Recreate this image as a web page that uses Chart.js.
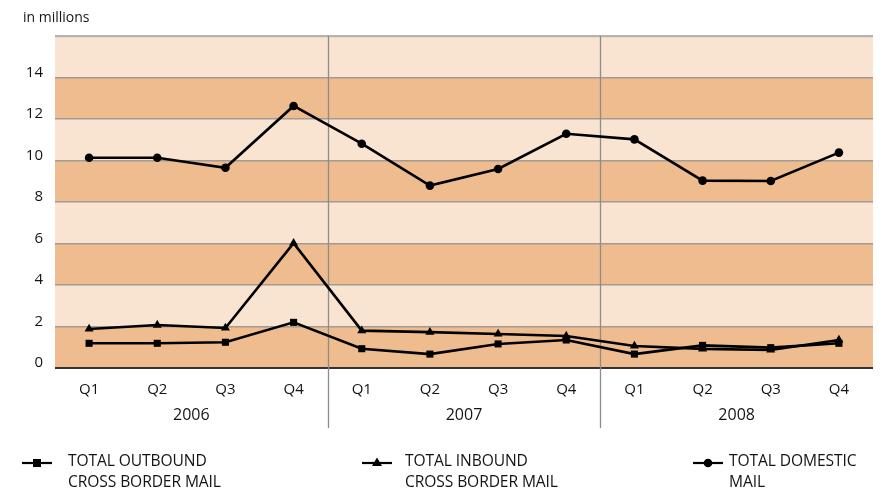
<!DOCTYPE html>
<html>
<head>
<meta charset="utf-8">
<script src="https://cdn.jsdelivr.net/npm/chart.js@4"></script>
<style>
  html, body { margin: 0; padding: 0; background: #ffffff; }
  #wrap { position: relative; width: 888px; height: 491px; font-family: "Open Sans", sans-serif; color: #141414; }
  #chart { position: absolute; left: 0; top: 0; }
  .unit { position: absolute; left: 23px; top: 7px; font-size: 14px; }
  .leg { position: absolute; top: 450px; font-size: 15.6px; line-height: 21px; letter-spacing: -0.1px; }
  .leg svg { position: absolute; top: 5px; }
</style>
</head>
<body>
<div id="wrap">
  <canvas id="chart" width="888" height="491"></canvas>
  <div class="unit">in millions</div>
  <div id="legend"></div>
</div>
<script>
// Quarterly mail volumes, in millions
const years = ['2006', '2007', '2008'];
const quarters = ['Q1', 'Q2', 'Q3', 'Q4', 'Q1', 'Q2', 'Q3', 'Q4', 'Q1', 'Q2', 'Q3', 'Q4'];
const outbound = [1.19, 1.19, 1.24, 2.20, 0.93, 0.67, 1.16, 1.35, 0.67, 1.09, 0.98, 1.19];
const inbound  = [1.88, 2.07, 1.93, 6.02, 1.80, 1.73, 1.64, 1.54, 1.06, 0.92, 0.87, 1.35];
const domestic = [10.13, 10.13, 9.65, 12.63, 10.81, 8.79, 9.59, 11.29, 11.02, 9.03, 9.01, 10.38];
const yTicks = [0, 2, 4, 6, 8, 10, 12, 14];
const legendLabels = [
  ['TOTAL OUTBOUND', 'CROSS BORDER MAIL'],
  ['TOTAL INBOUND', 'CROSS BORDER MAIL'],
  ['TOTAL DOMESTIC', 'MAIL']
];

const LIGHT = '#f9e4d2';
const DARK = '#eebc8e';
const FONT = '"Open Sans", sans-serif';

// alternating horizontal bands behind the plot, one per 2-million step
const bandPlugin = {
  id: 'bands',
  beforeDraw(chart) {
    const { ctx, chartArea: a, scales: { y } } = chart;
    ctx.save();
    for (let v = 0; v < y.max; v += 2) {
      const top = y.getPixelForValue(v + 2);
      const bot = y.getPixelForValue(v);
      ctx.fillStyle = (v / 2) % 2 === 0 ? DARK : LIGHT;
      ctx.fillRect(a.left, top, a.right - a.left, bot - top);
    }
    ctx.restore();
  }
};

// year separators and year captions under the quarter labels
const yearPlugin = {
  id: 'years',
  beforeDatasetsDraw(chart) {
    const { ctx, chartArea: a, scales: { x } } = chart;
    ctx.save();
    ctx.strokeStyle = '#8c8c8c';
    ctx.lineWidth = 1.3;
    for (let i = 1; i < years.length; i++) {
      const px = Math.round((x.getPixelForValue(i * 4 - 1) + x.getPixelForValue(i * 4)) / 2) + 0.5;
      ctx.beginPath();
      ctx.moveTo(px, a.top);
      ctx.lineTo(px, a.bottom + 60);
      ctx.stroke();
    }
    ctx.restore();
  },
  afterDraw(chart) {
    const { ctx, chartArea: a, scales: { x } } = chart;
    ctx.save();
    ctx.fillStyle = '#141414';
    ctx.font = '16px ' + FONT;
    ctx.textAlign = 'center';
    ctx.textBaseline = 'middle';
    years.forEach((yr, i) => {
      const cx = (x.getPixelForValue(i * 4 + 1) + x.getPixelForValue(i * 4 + 2)) / 2;
      ctx.fillText(yr, cx, a.bottom + 47);
    });
    ctx.restore();
  }
};

const common = {
  borderColor: '#000000',
  backgroundColor: '#000000',
  borderWidth: 2.6,
  tension: 0,
  pointBorderWidth: 0,
  pointHoverRadius: 5
};

new Chart(document.getElementById('chart'), {
  type: 'line',
  data: {
    labels: quarters,
    datasets: [
      Object.assign({ label: legendLabels[2].join(' '), data: domestic, pointStyle: 'circle', pointRadius: 4.3 }, common),
      Object.assign({ label: legendLabels[1].join(' '), data: inbound, pointStyle: 'triangle', pointRadius: 5.2 }, common),
      Object.assign({ label: legendLabels[0].join(' '), data: outbound, pointStyle: 'rect', pointRadius: 5 }, common)
    ]
  },
  options: {
    responsive: false,
    animation: false,
    layout: { padding: { left: 0, right: 15, top: 36, bottom: 0 } },
    plugins: { legend: { display: false }, tooltip: { enabled: false } },
    scales: {
      x: {
        offset: true,
        grid: { display: false, drawTicks: false },
        border: { display: false },
        ticks: { color: '#141414', font: { family: FONT, size: 15 }, padding: 13, maxRotation: 0, autoSkip: false },
        afterFit(s) { s.height = 123; }
      },
      y: {
        min: 0,
        max: 16,
        afterBuildTicks(s) { s.ticks = yTicks.concat([16]).map(v => ({ value: v })); },
        grid: {
          drawTicks: false,
          color: c => c.tick.value === 0 ? '#333333' : (c.tick.value === 16 ? '#b4b4b4' : '#a39a93'),
          lineWidth: c => c.tick.value === 0 ? 2 : (c.tick.value === 16 ? 2.2 : 1.4)
        },
        border: { display: false },
        ticks: {
          color: '#141414',
          font: { family: FONT, size: 15 },
          padding: 12,
          labelOffset: -5,
          callback: v => yTicks.includes(v) ? String(v) : ''
        },
        afterFit(s) { s.width = 55; }
      }
    }
  },
  plugins: [bandPlugin, yearPlugin]
});

// legend below the plot
const markers = [
  '<rect x="11" y="4" width="8" height="8" fill="#000"/>',
  '<polygon points="15,2.5 20,11 10,11" fill="#000"/>',
  '<circle cx="15" cy="8" r="4.3" fill="#000"/>'
];
const legendPos = [
  { line: 22, text: 68 },
  { line: 362, text: 405 },
  { line: 693, text: 729 }
];
const legendEl = document.getElementById('legend');
legendLabels.forEach((lines, i) => {
  const d = document.createElement('div');
  d.className = 'leg';
  d.style.left = legendPos[i].text + 'px';
  d.innerHTML = '<svg width="30" height="16" style="left:' + (legendPos[i].line - legendPos[i].text) + 'px">' +
    '<line x1="0" y1="8" x2="30" y2="8" stroke="#000" stroke-width="2.2"/>' + markers[i] + '</svg>' +
    lines.join('<br>');
  legendEl.appendChild(d);
});
</script>
</body>
</html>
